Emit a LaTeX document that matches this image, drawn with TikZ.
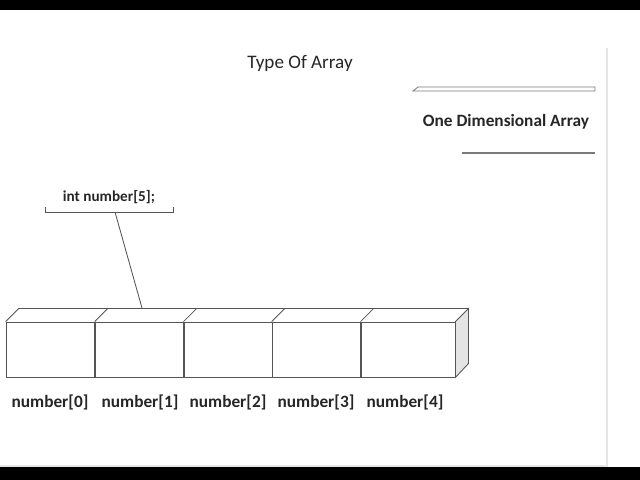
\documentclass[tikz,border=0pt]{standalone}
\usepackage{fontspec}
\setmainfont{Carlito}
\usepackage{xcolor}
\usetikzlibrary{positioning,calc}
\definecolor{edgecolor}{HTML}{555555}
\definecolor{sidecolor}{HTML}{E4E4E4}
\definecolor{rulecolor}{HTML}{7A7A7A}

\begin{document}
\begin{tikzpicture}[
    x=0.025cm, y=-0.025cm,
    cell/.style={draw=edgecolor, line width=0.6pt, minimum width=2.22cm, minimum height=1.375cm, inner sep=0pt},
    idx/.style={font=\fontsize{12.3}{14}\selectfont\bfseries, text=black!85},
  ]
  \useasboundingbox (0,0) rectangle (640,480);
  \fill[black] (0,0) rectangle (640,10);
  \fill[black] (0,467) rectangle (640,480);
  \draw[black!10, line width=1.2pt] (607,48) -- (607,466) -- (0,466);

  \node[font=\fontsize{13.6}{15}\selectfont, text=black!85] (title) at (300,63) {Type Of Array};
  \draw[rulecolor, line width=0.6pt, fill=white] (413,91) -- (418,87) -- (595,87) -- (595,91) -- cycle;
  \node[font=\fontsize{12.3}{14}\selectfont\bfseries, text=black!85] (kind) at (506,122) {One Dimensional Array};
  \draw[rulecolor, line width=1pt] (462,153) -- (595,153);

  \node[font=\fontsize{10.8}{13}\selectfont\bfseries, text=black!85] (decl) at (109,197) {int number[5];};
  \draw[edgecolor, line width=0.6pt] (45,207) -- (45,212) -- (173,212) -- (173,207);
  \coordinate (brk) at (115,212);

  \node[cell] (cell0) at (50.5,349.5) {};
  \node[cell] (cell1) at (139.5,349.5) {};
  \node[cell, minimum width=2.2cm] (cell2) at (228,349.5) {};
  \node[cell] (cell3) at (316.5,349.5) {};
  \node[cell, minimum width=2.35cm] (cell4) at (408,349.5) {};
  \draw[edgecolor, line width=0.6pt] (cell0.north west) -- ++(13,-13) -- ($(cell4.north east)+(13,-13)$);
  \draw[edgecolor, line width=0.6pt] (cell1.north west) -- ++(13,-13);
  \draw[edgecolor, line width=0.6pt] (cell2.north west) -- ++(13,-13);
  \draw[edgecolor, line width=0.6pt] (cell3.north west) -- ++(13,-13);
  \draw[edgecolor, line width=0.6pt] (cell4.north west) -- ++(13,-13);
  \draw[edgecolor, line width=0.6pt, fill=sidecolor] (cell4.north east) -- ++(13,-13) -- ++(0,55) -- (cell4.south east) -- cycle;
  \coordinate (top) at (142,308);
  \draw[edgecolor, line width=0.6pt] (brk) -- (top);

  \node[idx] (lab0) at (50,402) {number[0]};
  \node[idx] (lab1) at (140,402) {number[1]};
  \node[idx] (lab2) at (228,402) {number[2]};
  \node[idx] (lab3) at (316,402) {number[3]};
  \node[idx] (lab4) at (405,402) {number[4]};
\end{tikzpicture}
\end{document}
